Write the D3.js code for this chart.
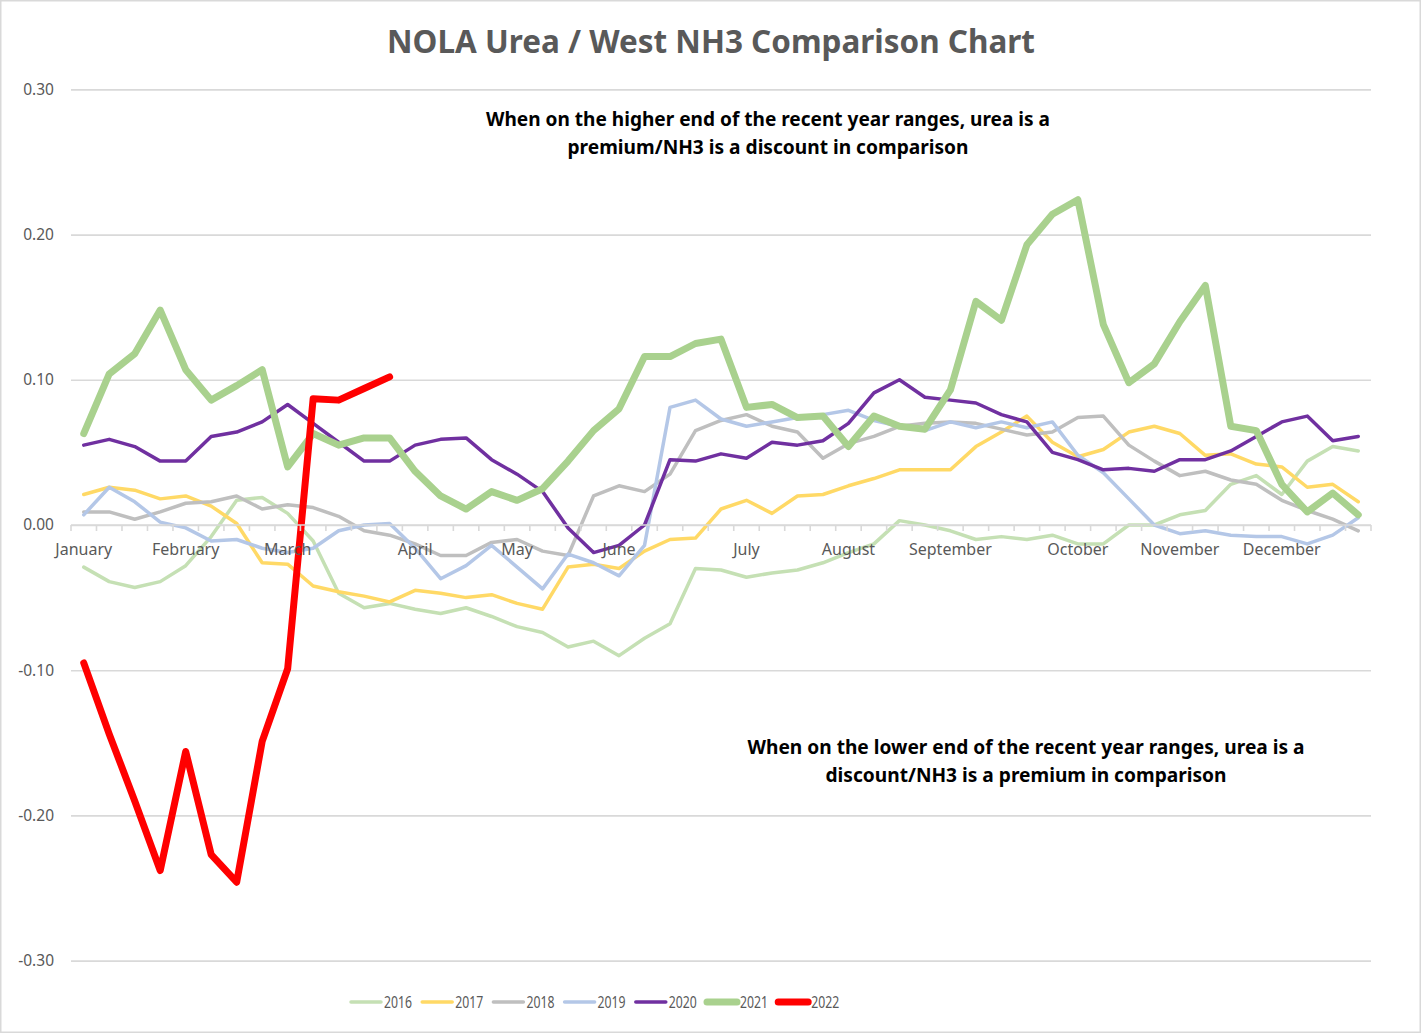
<!DOCTYPE html>
<html>
<head>
<meta charset="utf-8">
<script src="https://cdn.jsdelivr.net/npm/d3@7"></script>
<style>
  body { margin: 0; background: #fff; }
  svg { display: block; font-family: "Noto Sans", sans-serif; }
</style>
</head>
<body>
<svg id="chart"></svg>
<script>
// weekly values, 51 weeks per year
const years = ["2016", "2017", "2018", "2019", "2020", "2021", "2022"];
const w2016 = [-0.029,-0.039,-0.043,-0.039,-0.028,-0.008,0.017,0.019,0.008,-0.011,-0.047,-0.057,-0.054,-0.058,-0.061,-0.057,-0.063,-0.070,-0.074,-0.084,-0.080,-0.090,-0.078,-0.068,-0.030,-0.031,-0.036,-0.033,-0.031,-0.026,-0.019,-0.013,0.003,0.000,-0.004,-0.010,-0.008,-0.010,-0.007,-0.013,-0.013,0.000,0.000,0.007,0.010,0.028,0.034,0.021,0.044,0.054,0.051];
const w2017 = [0.021,0.026,0.024,0.018,0.020,0.013,0.001,-0.026,-0.027,-0.042,-0.046,-0.049,-0.053,-0.045,-0.047,-0.050,-0.048,-0.054,-0.058,-0.029,-0.027,-0.030,-0.018,-0.010,-0.009,0.011,0.017,0.008,0.020,0.021,0.027,0.032,0.038,0.038,0.038,0.054,0.064,0.075,0.057,0.047,0.052,0.064,0.068,0.063,0.048,0.049,0.042,0.040,0.026,0.028,0.016];
const w2018 = [0.009,0.009,0.004,0.009,0.015,0.016,0.020,0.011,0.014,0.012,0.006,-0.004,-0.007,-0.013,-0.021,-0.021,-0.012,-0.010,-0.018,-0.021,0.020,0.027,0.023,0.035,0.065,0.072,0.076,0.068,0.064,0.046,0.056,0.061,0.068,0.070,0.071,0.070,0.066,0.062,0.064,0.074,0.075,0.055,0.044,0.034,0.037,0.031,0.028,0.017,0.010,0.004,-0.004];
const w2019 = [0.007,0.026,0.016,0.002,-0.002,-0.011,-0.010,-0.016,-0.019,-0.016,-0.004,0.000,0.001,-0.016,-0.037,-0.028,-0.014,-0.029,-0.044,-0.020,-0.026,-0.035,-0.014,0.081,0.086,0.073,0.068,0.071,0.074,0.076,0.079,0.072,0.068,0.065,0.071,0.067,0.071,0.067,0.071,0.048,0.036,0.018,0.000,-0.006,-0.004,-0.007,-0.008,-0.008,-0.013,-0.007,0.005];
const w2020 = [0.055,0.059,0.054,0.044,0.044,0.061,0.064,0.071,0.083,0.070,0.057,0.044,0.044,0.055,0.059,0.060,0.045,0.035,0.023,-0.002,-0.019,-0.014,0.000,0.045,0.044,0.049,0.046,0.057,0.055,0.058,0.070,0.091,0.100,0.088,0.086,0.084,0.076,0.071,0.050,0.045,0.038,0.039,0.037,0.045,0.045,0.051,0.061,0.071,0.075,0.058,0.061];
const w2021 = [0.063,0.104,0.118,0.148,0.107,0.086,0.096,0.107,0.040,0.063,0.055,0.060,0.060,0.037,0.020,0.011,0.023,0.017,0.025,0.044,0.065,0.080,0.116,0.116,0.125,0.128,0.081,0.083,0.074,0.075,0.054,0.075,0.068,0.066,0.093,0.154,0.141,0.193,0.214,0.224,0.138,0.098,0.111,0.140,0.165,0.068,0.065,0.028,0.009,0.022,0.007];
const w2022 = [-0.095,-0.144,-0.190,-0.238,-0.156,-0.227,-0.246,-0.149,-0.099,0.087,0.086,0.094,0.102];

const monthLabels = ["January","February","March","April","May","June","July","August","September","October","November","December"];
const monthWeeks = [0, 4, 8, 13, 17, 21, 26, 30, 34, 39, 43, 47];
const yTicks = [0.30, 0.20, 0.10, 0.00, -0.10, -0.20, -0.30];

const seriesValues = [w2016, w2017, w2018, w2019, w2020, w2021, w2022];
const colors = ["#c5e0b4", "#ffd966", "#bfbfbf", "#b4c7e7", "#7030a0", "#a9d18e", "#ff0000"];
const widths = [3.5, 3.5, 3.5, 3.5, 3.5, 7, 7];

class LineChart {
  constructor(_config) {
    this.config = {
      parentElement: _config.parentElement,
      containerWidth: _config.containerWidth || 1421,
      containerHeight: _config.containerHeight || 1033,
      margin: _config.margin || {top: 89.4, bottom: 72.4, right: 50, left: 71}
    };
    this.initVis();
  }

  initVis() {
    let vis = this;
    vis.width = vis.config.containerWidth - vis.config.margin.left - vis.config.margin.right;
    vis.height = vis.config.containerHeight - vis.config.margin.top - vis.config.margin.bottom;

    vis.xScale = d3.scaleBand()
        .domain(d3.range(w2016.length))
        .range([0, vis.width])
        .padding(0);

    vis.yScale = d3.scaleLinear()
        .domain([-0.30, 0.30])
        .range([vis.height, 0]);

    vis.svg = d3.select(vis.config.parentElement)
        .attr('width', vis.config.containerWidth)
        .attr('height', vis.config.containerHeight);

    // chart border
    vis.svg.append('rect')
        .attr('x', 0.75).attr('y', 0.75)
        .attr('width', vis.config.containerWidth - 1.5)
        .attr('height', vis.config.containerHeight - 1.5)
        .attr('fill', '#fff')
        .attr('stroke', '#d9d9d9')
        .attr('stroke-width', 1.5);

    vis.chart = vis.svg.append('g')
        .attr('transform', `translate(${vis.config.margin.left},${vis.config.margin.top})`);

    vis.svg.append('text')
        .attr('x', 711)
        .attr('y', 53)
        .attr('text-anchor', 'middle')
        .attr('textLength', 648)
        .attr('lengthAdjust', 'spacingAndGlyphs')
        .style('font-size', '32px')
        .style('font-weight', 'bold')
        .style('fill', '#595959')
        .text("NOLA Urea / West NH3 Comparison Chart");

    this.updateVis();
  }

  updateVis() {
    let vis = this;
    vis.xc = i => vis.xScale(i) + vis.xScale.bandwidth() / 2;
    vis.renderVis();
  }

  renderVis() {
    let vis = this;

    // gridlines + y labels
    const yAxis = d3.axisLeft(vis.yScale)
        .tickValues(yTicks)
        .tickSize(-vis.width)
        .tickPadding(17)
        .tickFormat(d => d.toFixed(2));

    const yg = vis.chart.append('g').call(yAxis);
    yg.select('.domain').remove();
    yg.selectAll('.tick line')
        .attr('stroke', '#d9d9d9')
        .attr('stroke-width', 1.6);
    yg.selectAll('.tick text')
        .style('font-family', '"Noto Sans", sans-serif')
        .style('font-size', '15.5px')
        .style('fill', '#595959');

    // category axis sits at zero
    const y0 = vis.yScale(0);
    const xg = vis.chart.append('g').attr('transform', `translate(0,${y0})`);
    xg.append('line')
        .attr('x1', 0).attr('x2', vis.width)
        .attr('stroke', '#d9d9d9').attr('stroke-width', 1.6);
    xg.selectAll('.cat-tick')
        .data(d3.range(w2016.length + 1))
        .join('line')
        .attr('class', 'cat-tick')
        .attr('x1', i => i < w2016.length ? vis.xScale(i) : vis.width)
        .attr('x2', i => i < w2016.length ? vis.xScale(i) : vis.width)
        .attr('y1', 0).attr('y2', 6)
        .attr('stroke', '#d9d9d9').attr('stroke-width', 1.6);

    // series
    const line = d3.line()
        .x((d, i) => vis.xc(i))
        .y(d => vis.yScale(d));

    vis.chart.selectAll('.series')
        .data(seriesValues)
        .join('path')
        .attr('class', 'series')
        .attr('d', d => line(d))
        .attr('fill', 'none')
        .attr('stroke', (d, i) => colors[i])
        .attr('stroke-width', (d, i) => widths[i])
        .attr('stroke-linejoin', 'round')
        .attr('stroke-linecap', 'round');

    // month labels drawn on top of lines
    xg.raise();
    xg.selectAll('.month')
        .data(monthWeeks)
        .join('text')
        .attr('class', 'month')
        .attr('x', d => vis.xc(d))
        .attr('y', 30)
        .attr('text-anchor', 'middle')
        .style('font-size', '16px')
        .style('fill', '#595959')
        .text((d, i) => monthLabels[i]);

    // annotations
    const notes = [
      {x: 768, y: 126, t: "When on the higher end of the recent year ranges, urea is a", w: 564},
      {x: 768, y: 154, t: "premium/NH3 is a discount in comparison", w: 401},
      {x: 1026, y: 754, t: "When on the lower end of the recent year ranges, urea is a", w: 557},
      {x: 1026, y: 782, t: "discount/NH3 is a premium in comparison", w: 401}
    ];
    vis.svg.selectAll('.note')
        .data(notes)
        .join('text')
        .attr('class', 'note')
        .attr('x', d => d.x)
        .attr('y', d => d.y)
        .attr('text-anchor', 'middle')
        .attr('textLength', d => d.w)
        .attr('lengthAdjust', 'spacingAndGlyphs')
        .style('font-size', '19px')
        .style('font-weight', 'bold')
        .style('fill', '#000')
        .text(d => d.t);

    // legend
    const legend = vis.svg.append('g').attr('transform', 'translate(351,1002)');
    const item = legend.selectAll('.item')
        .data(years)
        .join('g')
        .attr('class', 'item')
        .attr('transform', (d, i) => `translate(${i * 71.2},0)`);
    item.append('line')
        .attr('x1', 0).attr('x2', 30)
        .attr('stroke', (d, i) => colors[i])
        .attr('stroke-width', (d, i) => widths[i])
        .attr('stroke-linecap', 'round');
    item.append('text')
        .attr('x', 33)
        .attr('y', 6)
        .attr('textLength', 28)
        .attr('lengthAdjust', 'spacingAndGlyphs')
        .style('font-size', '16px')
        .style('fill', '#595959')
        .text(d => d);
  }
}

new LineChart({parentElement: '#chart'});
</script>
</body>
</html>
